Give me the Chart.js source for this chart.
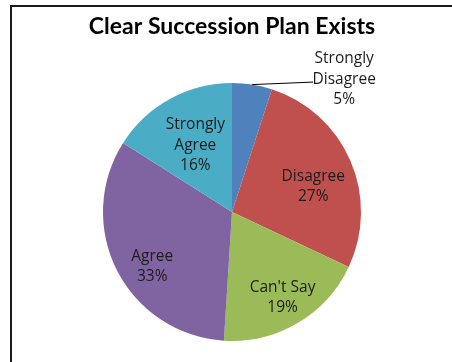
<!DOCTYPE html>
<html>
<head>
<meta charset="utf-8">
<script src="https://cdn.jsdelivr.net/npm/chart.js@4"></script>
<style>
  html, body { margin: 0; padding: 0; background: #fff; overflow: hidden; }
  #frame { position: absolute; left: 10px; top: 5px; width: 600px; height: 600px; border: 2px solid #1a1a1a; }
  #pie { position: absolute; left: 0; top: 0; }
</style>
</head>
<body>
<div id="frame"></div>
<canvas id="pie" width="452" height="362"></canvas>
<script>
  // clockwise from 12 o'clock
  const categories = [["Strongly", "Disagree"], ["Disagree"], ["Can't Say"], ["Agree"], ["Strongly", "Agree"]];
  const shares = [5, 27, 19, 33, 16];
  const sliceColors = ["#4F81BD", "#C0504D", "#9BBB59", "#8064A2", "#4BACC6"];

  const FONT = "'Open Sans', Lato, sans-serif";
  const TITLE_FONT = "Lato, 'Open Sans', sans-serif";

  // labels inside the slices, the small first slice gets a leader line
  const sliceLabels = {
    id: "sliceLabels",
    afterDatasetsDraw(chart, args, opts) {
      const ctx = chart.ctx;
      const meta = chart.getDatasetMeta(0);
      ctx.save();
      ctx.font = "15.5px " + FONT;
      ctx.fillStyle = "#1c1c1c";
      ctx.textAlign = "center";
      ctx.textBaseline = "middle";
      const lh = 20.5;
      meta.data.forEach((arc, i) => {
        const p = arc.getProps(["x", "y", "startAngle", "endAngle", "outerRadius"], true);
        const mid = (p.startAngle + p.endAngle) / 2 + opts.turn[i] * Math.PI / 180;
        const lines = categories[i].concat([shares[i] + "%"]);
        let cx, cy;
        if (i === 0) {
          const ex = p.x + Math.cos(mid) * p.outerRadius;
          const ey = p.y + Math.sin(mid) * p.outerRadius;
          const lx = ex + 61, ly = ey - 2.5;
          ctx.strokeStyle = "#000";
          ctx.lineWidth = 1;
          ctx.beginPath();
          ctx.moveTo(ex, ey);
          ctx.lineTo(lx, ly);
          ctx.stroke();
          cx = lx + 31;
          cy = ly - 3;
        } else {
          const f = opts.reach[i];
          cx = p.x + Math.cos(mid) * p.outerRadius * f;
          cy = p.y + Math.sin(mid) * p.outerRadius * f;
        }
        const top = cy - (lines.length - 1) * lh / 2;
        lines.forEach((t, k) => ctx.fillText(t, cx, top + k * lh));
      });
      ctx.restore();
    }
  };

  new Chart(document.getElementById("pie"), {
    type: "pie",
    data: {
      labels: categories,
      datasets: [{ data: shares, backgroundColor: sliceColors, borderWidth: 0 }]
    },
    options: {
      responsive: false,
      animation: false,
      // pie is sized by the height, so it stays centred at x = 232
      layout: { padding: { top: 0, bottom: 21, left: 12, right: 0 } },
      plugins: {
        legend: { display: false },
        tooltip: { enabled: false },
        title: {
          display: true,
          text: "Clear Succession Plan Exists",
          color: "#000",
          font: { family: TITLE_FONT, size: 23, weight: "bold" },
          padding: { top: 13, bottom: 42.4 }
        },
        // where each label block sits: fraction of the radius, and a turn in degrees
        sliceLabels: { reach: [1, 0.66, 0.77, 0.75, 0.59], turn: [0, 6, 0, -7.5, 0] }
      }
    },
    plugins: [sliceLabels]
  });
</script>
</body>
</html>
